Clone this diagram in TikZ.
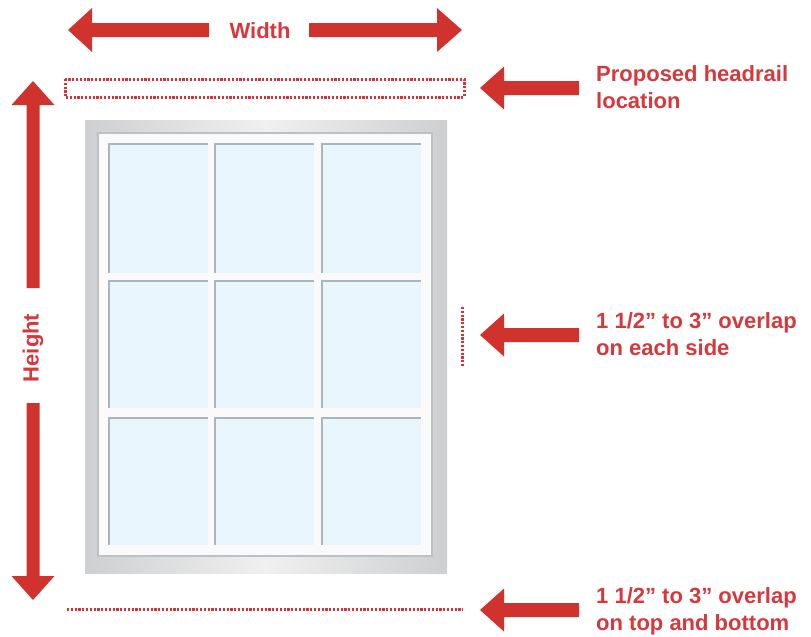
\documentclass[tikz,border=0pt]{standalone}
\usepackage{fontspec}
\setmainfont{Liberation Sans}
\definecolor{arrowred}{RGB}{208,50,45}
\definecolor{textred}{RGB}{214,56,60}
\definecolor{dotred}{RGB}{212,52,55}
\definecolor{frameedge}{RGB}{206,207,209}
\definecolor{framemid}{RGB}{240,240,240}
\definecolor{innerline}{RGB}{190,193,196}
\definecolor{panefill}{RGB}{234,246,253}
\definecolor{paneline}{RGB}{170,181,188}
\begin{document}
\begin{tikzpicture}[x=1pt,y=-1pt,
  lbl/.style={text=textred,font=\bfseries\fontsize{22}{26.5}\selectfont,inner sep=0pt,align=left},
  dots/.style={draw=dotred,line width=3pt,dash pattern=on 2.2pt off 1.6pt},
  blockarrow/.style={fill=arrowred}]
\useasboundingbox (0,0) rectangle (811,637);

% ---- window ----
\shade[left color=frameedge,right color=frameedge,middle color=framemid] (85,120) rectangle (447,573);
\fill[white!98!black] (98,133) rectangle (432,556);
\draw[innerline,line width=1.2pt] (98,133) rectangle (432,556);
\foreach \xa/\xb in {109/208,215/314,322/421}{
  \foreach \ya/\yb in {144/273,281/408,418/545}{
    \fill[panefill] (\xa,\ya) rectangle (\xb,\yb);
    \draw[paneline,line width=1.5pt] (\xa,\yb) -- (\xa,\ya) -- (\xb,\ya);
  }
}

% ---- width arrows ----
\node[lbl] (width) at (260,31) {Width};
\fill[blockarrow] (68,30) -- (92,8) -- (92,23) -- (209,23) -- (209,37) -- (92,37) -- (92,52) -- cycle;
\fill[blockarrow] (462,30) -- (437,8) -- (437,23) -- (309,23) -- (309,37) -- (437,37) -- (437,52) -- cycle;

% ---- height arrows ----
\node[lbl,rotate=90] (height) at (33,348) {Height};
\fill[blockarrow] (33,81) -- (11.5,105) -- (26.5,105) -- (26.5,288) -- (39.5,288) -- (39.5,105) -- (54.5,105) -- cycle;
\fill[blockarrow] (33,600) -- (11.5,576) -- (26.5,576) -- (26.5,403) -- (39.5,403) -- (39.5,576) -- (54.5,576) -- cycle;

% ---- dotted guides ----
\draw[dots] (65,79) rectangle (464,97);
\draw[dots] (462,307) -- (462,367);
\draw[dots] (67,609) -- (463,609);

% ---- pointer arrows ----
\foreach \y in {88,335,610}{
  \fill[blockarrow] (480,\y) -- (504,\y-21.5) -- (504,\y-7) -- (579,\y-7) -- (579,\y+7) -- (504,\y+7) -- (504,\y+21.5) -- cycle;
}

% ---- labels (base = baseline of last line) ----
\node[lbl,anchor=base west] (headrail) at (596,108) {Proposed headrail\\location};
\node[lbl,anchor=base west] (sides) at (596,355) {1 1/2” to 3” overlap\\on each side};
\node[lbl,anchor=base west] (topbottom) at (596,630) {1 1/2” to 3” overlap\\on top and bottom};
\end{tikzpicture}
\end{document}
